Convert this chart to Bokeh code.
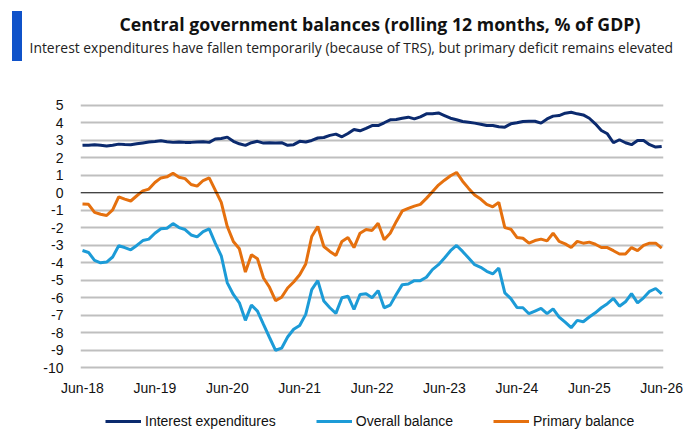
import numpy as np
from bokeh.plotting import figure
from bokeh.layouts import column
from bokeh.models import (Range1d, FixedTicker, Span, Legend, LegendItem, Title,
                          InlineStyleSheet)
from bokeh.embed import file_html
from bokeh.resources import INLINE

# Monthly observations, Jun-18 (index 0) to Jun-26 (index 96)
tick_labels = ["Jun-18", "Jun-19", "Jun-20", "Jun-21", "Jun-22",
               "Jun-23", "Jun-24", "Jun-25", "Jun-26"]
tick_positions = [0, 12, 24, 36, 48, 60, 72, 84, 96]
y_ticks = [-10, -9, -8, -7, -6, -5, -4, -3, -2, -1, 0, 1, 2, 3, 4, 5]

interest = [2.71, 2.72, 2.75, 2.72, 2.67, 2.72, 2.78, 2.76, 2.75, 2.80, 2.85, 2.90,
            2.93, 2.97, 2.92, 2.88, 2.90, 2.88, 2.88, 2.90, 2.92, 2.88, 3.07, 3.10,
            3.18, 2.94, 2.80, 2.71, 2.86, 2.94, 2.84, 2.86, 2.84, 2.86, 2.71, 2.75,
            2.94, 2.90, 2.99, 3.13, 3.16, 3.28, 3.35, 3.20, 3.39, 3.62, 3.54, 3.68,
            3.84, 3.84, 4.00, 4.17, 4.19, 4.26, 4.32, 4.22, 4.34, 4.51, 4.51, 4.56,
            4.41, 4.26, 4.17, 4.07, 4.03, 3.98, 3.92, 3.84, 3.84, 3.77, 3.75, 3.94,
            4.00, 4.07, 4.09, 4.09, 3.98, 4.22, 4.38, 4.41, 4.55, 4.60, 4.51, 4.45,
            4.26, 3.94, 3.56, 3.37, 2.86, 3.03, 2.86, 2.75, 2.99, 2.99, 2.75, 2.61,
            2.65]

primary = [-0.64, -0.66, -1.12, -1.23, -1.30, -0.98, -0.23, -0.36, -0.47, -0.17, 0.11, 0.21,
           0.59, 0.85, 0.91, 1.12, 0.89, 0.81, 0.47, 0.38, 0.70, 0.85, 0.15, -0.55,
           -1.93, -2.78, -3.20, -4.53, -3.54, -3.77, -4.87, -5.40, -6.16, -5.97, -5.44, -5.10,
           -4.68, -4.07, -2.50, -1.93, -3.07, -3.35, -3.58, -2.78, -2.56, -3.13, -2.31, -2.10,
           -2.15, -1.74, -2.69, -2.31, -1.65, -1.04, -0.89, -0.76, -0.66, -0.32, 0.06, 0.44,
           0.72, 0.97, 1.16, 0.66, 0.25, -0.13, -0.36, -0.66, -0.80, -0.55, -1.99, -2.08,
           -2.55, -2.60, -2.88, -2.73, -2.65, -2.75, -2.31, -2.78, -2.92, -3.13, -2.78, -2.88,
           -2.82, -2.94, -3.13, -3.13, -3.31, -3.50, -3.50, -3.13, -3.31, -3.01, -2.88, -2.88,
           -3.16]

overall = [-3.30, -3.41, -3.86, -4.00, -3.96, -3.67, -3.03, -3.13, -3.26, -3.01, -2.73, -2.65,
           -2.31, -2.06, -2.03, -1.76, -1.99, -2.10, -2.41, -2.52, -2.22, -2.06, -2.88, -3.60,
           -5.15, -5.81, -6.29, -7.29, -6.42, -6.76, -7.52, -8.27, -9.00, -8.88, -8.24, -7.80,
           -7.58, -6.95, -5.53, -5.02, -6.19, -6.57, -6.89, -6.00, -5.91, -6.67, -5.81, -5.77,
           -6.00, -5.59, -6.57, -6.42, -5.81, -5.25, -5.21, -5.02, -5.02, -4.83, -4.39, -4.11,
           -3.73, -3.31, -3.01, -3.35, -3.73, -4.11, -4.26, -4.49, -4.64, -4.30, -5.72, -6.05,
           -6.55, -6.57, -6.91, -6.76, -6.61, -6.91, -6.63, -7.10, -7.39, -7.71, -7.29, -7.37,
           -7.10, -6.86, -6.57, -6.34, -6.04, -6.48, -6.23, -5.76, -6.29, -6.00, -5.63, -5.47,
           -5.78]

series_names = ["Interest expenditures", "Overall balance", "Primary balance"]
title_text = "Central government balances (rolling 12 months, % of GDP)"
subtitle_text = ("Interest expenditures have fallen temporarily (because of TRS), "
                 "but primary deficit remains elevated")

x = np.arange(len(interest))

NAVY = "#0B2A6E"
LIGHT = "#1C9BD7"
ORANGE = "#E5700E"
COLORS = [NAVY, LIGHT, ORANGE]
SERIES = [interest, overall, primary]

accent_bar = InlineStyleSheet(css="""
:host::before {
  content: "";
  position: absolute;
  left: 12px; top: 11px; width: 10px; height: 50px;
  background: #0F52C9;
  z-index: 100;
}
""")

p = figure(width=700, height=400,
           x_range=Range1d(-0.33, 96.3), y_range=Range1d(-10.27, 7.73),
           output_backend="svg", toolbar_location=None,
           min_border_left=80, min_border_right=37,
           min_border_top=57, min_border_bottom=28)
p.outline_line_color = None
p.stylesheets = [accent_bar]

# titles (first added sits closest to the plot frame)
p.add_layout(Title(text=subtitle_text, align="left", offset=-51, standoff=1,
                   text_font="Open Sans", text_font_style="normal",
                   text_font_size="13.9px", text_color="#222222"), "above")
p.add_layout(Title(text=title_text, align="left", offset=39, standoff=0,
                   text_font="Open Sans", text_font_style="bold",
                   text_font_size="17.7px", text_color="#111111"), "above")

# axes
p.xaxis.ticker = FixedTicker(ticks=tick_positions)
p.xaxis.major_label_overrides = {t: l for t, l in zip(tick_positions, tick_labels)}
p.yaxis.ticker = FixedTicker(ticks=y_ticks)
p.yaxis.major_label_overrides = {v: str(v) for v in y_ticks}
for ax in (p.xaxis, p.yaxis):
    ax.axis_line_color = None
    ax.major_tick_line_color = None
    ax.minor_tick_line_color = None
    ax.major_tick_out = 0
    ax.major_label_text_font = "Liberation Sans"
    ax.major_label_text_font_size = "14px"
    ax.major_label_text_color = "#111111"
p.xaxis.major_label_standoff = 7
p.yaxis.major_label_standoff = 17

# grid
p.xgrid.visible = False
p.ygrid.ticker = FixedTicker(ticks=[v for v in y_ticks if v != 0])
p.ygrid.grid_line_color = "#BFBFBF"
p.ygrid.grid_line_width = 2
p.add_layout(Span(location=0, dimension="width", line_color="black", line_width=1))

for series, col in zip(SERIES, COLORS):
    p.line(x, series, line_color=col, line_width=3)

# ---------------- footer holding the legend ----------------
footer = figure(width=700, height=37, x_range=p.x_range, y_range=Range1d(20, 21),
                x_axis_type=None, y_axis_type=None, min_border=0,
                output_backend="svg", toolbar_location=None)
footer.outline_line_color = None
items = []
for name, series, col in zip(series_names, SERIES, COLORS):
    r = footer.line(x, series, line_color=col, line_width=3)  # outside footer's range
    items.append(LegendItem(label=name, renderers=[r]))
legend = Legend(items=items, orientation="horizontal", location=(25, 8),
                padding=0, margin=0, spacing=40,
                glyph_width=36, glyph_height=16, label_height=16, label_standoff=4,
                border_line_color=None, background_fill_alpha=0,
                label_text_font="Liberation Sans", label_text_font_size="14px",
                label_text_color="#111111")
footer.add_layout(legend)

layout = column(p, footer, spacing=0)
open("out.html", "w").write(file_html(layout, INLINE))
